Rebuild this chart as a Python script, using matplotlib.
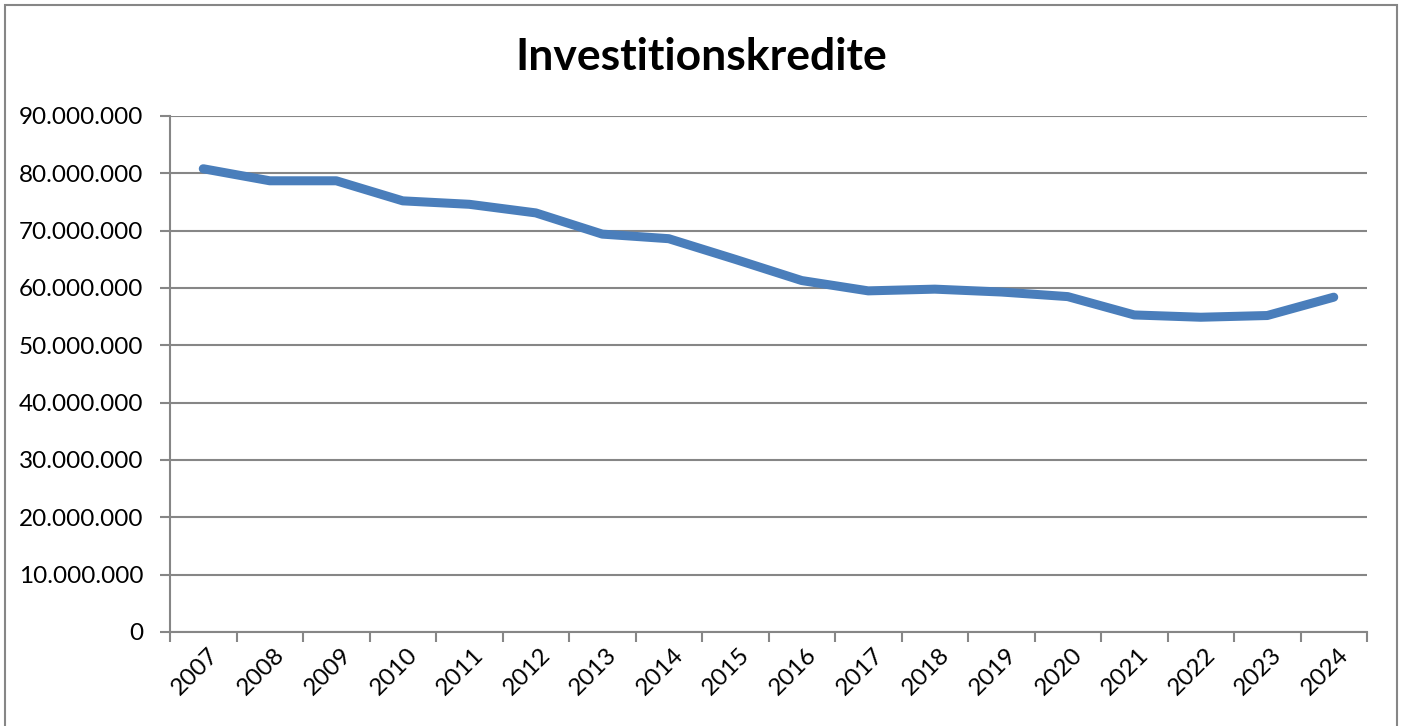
import matplotlib
matplotlib.use("Agg")
import matplotlib.pyplot as plt
from matplotlib.ticker import FuncFormatter, FixedLocator
from matplotlib.patches import Rectangle
from matplotlib.transforms import ScaledTranslation

years = ["2007", "2008", "2009", "2010", "2011", "2012", "2013", "2014", "2015",
         "2016", "2017", "2018", "2019", "2020", "2021", "2022", "2023", "2024"]
values = [80.8e6, 78.7e6, 78.7e6, 75.2e6, 74.6e6, 73.1e6, 69.4e6, 68.6e6, 65.0e6,
          61.3e6, 59.5e6, 59.8e6, 59.3e6, 58.5e6, 55.3e6, 54.9e6, 55.2e6, 58.4e6]
title = "Investitionskredite"

plt.rcParams['font.family'] = ['Lato', 'DejaVu Sans']
W, H = 1404, 726
fig = plt.figure(figsize=(W / 100, H / 100), dpi=100)
fig.patch.set_facecolor('white')

# outer chart border
fig.patches.append(Rectangle((5 / W, -0.05), (1397 - 5) / W, 1.05 - 5 / H,
                             transform=fig.transFigure, fill=False,
                             edgecolor='#868686', linewidth=1.5))

ax = fig.add_axes([170 / W, 1 - 632 / H, (1367 - 170) / W, (632 - 116) / H])
x = list(range(len(years)))
ax.plot(x, values, color='#4A7EBB', linewidth=6.5, solid_capstyle='round',
        solid_joinstyle='round', zorder=3)

ax.set_xlim(-0.5, len(years) - 0.5)
ax.set_ylim(0, 90e6)
ax.set_yticks([i * 10e6 for i in range(10)])
ax.yaxis.set_major_formatter(FuncFormatter(lambda v, p: f"{int(v):,}".replace(",", ".")))
ax.yaxis.grid(True, color='#868686', linewidth=1.5)
ax.set_axisbelow(True)

ax.xaxis.set_major_locator(FixedLocator([i - 0.5 for i in range(len(years) + 1)]))
ax.xaxis.set_major_formatter(FuncFormatter(lambda v, p: ""))
ax.set_xticks(x, minor=True)
ax.set_xticklabels(years, minor=True, rotation=45, ha='right', va='top',
                   rotation_mode='anchor', fontsize=17.5)
ax.tick_params(axis='x', which='minor', length=0, pad=9)
ax.tick_params(axis='x', which='major', length=7, width=1.5, color='#868686')
ax.tick_params(axis='y', length=7, width=1.5, color='#868686', labelsize=17.5, pad=12)
off = ScaledTranslation(4 / 100, 0, fig.dpi_scale_trans)
for lbl in ax.get_xticklabels(minor=True):
    lbl.set_transform(lbl.get_transform() + off)

for s in ['top', 'right']:
    ax.spines[s].set_visible(False)
for s in ['left', 'bottom']:
    ax.spines[s].set_color('#868686')
    ax.spines[s].set_linewidth(1.5)

fig.text(701 / W, 1 - 57 / H, title, ha='center', va='center',
         fontsize=32, fontweight='bold')

fig.savefig("out.png", dpi=100)
